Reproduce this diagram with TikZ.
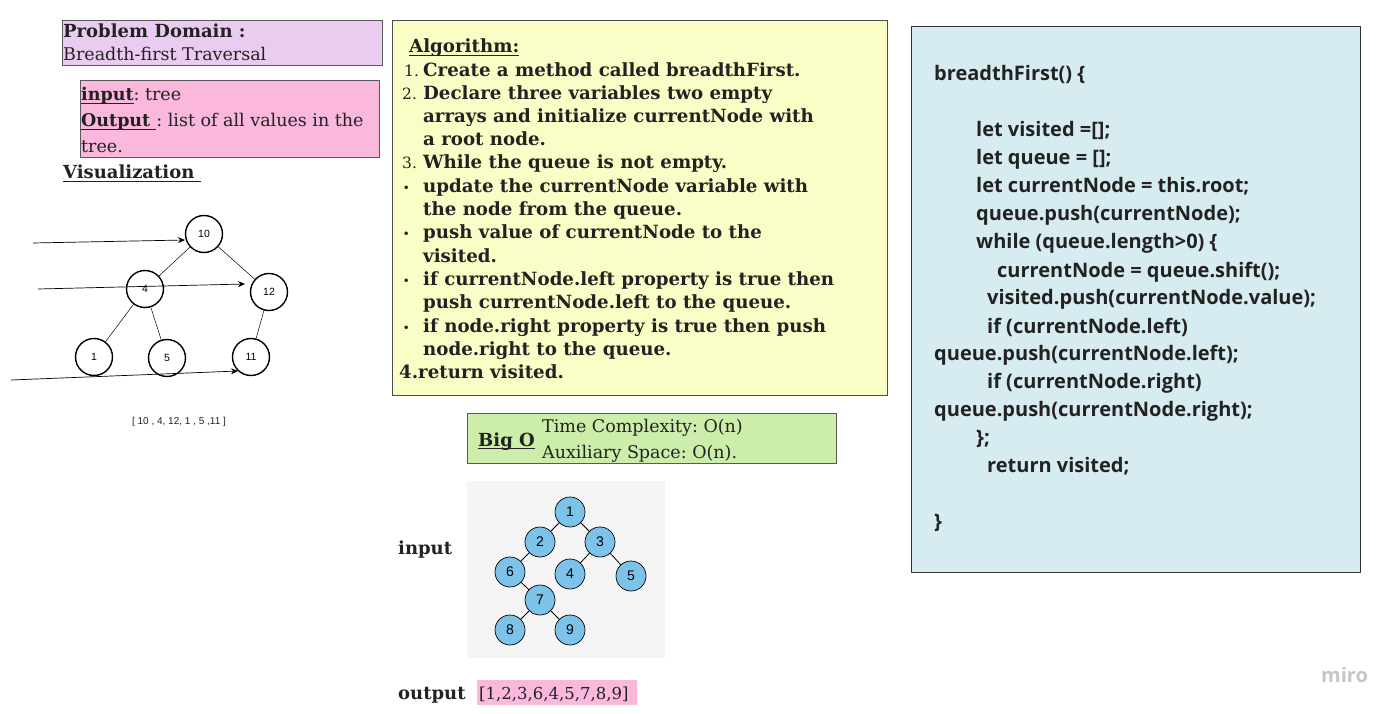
\documentclass[tikz,border=0pt]{standalone}
\usepackage{fontspec}
\setmainfont{DejaVu Serif}
\setsansfont{Liberation Sans}
\newfontfamily\codefont{Open Sans}
\usetikzlibrary{arrows.meta}
\frenchspacing
\definecolor{pdfill}{HTML}{EACCF1}
\definecolor{pinkfill}{HTML}{F9B8DC}
\definecolor{algfill}{HTML}{FAFEC6}
\definecolor{bigofill}{HTML}{CDEEAA}
\definecolor{codefill}{HTML}{D7ECF0}
\definecolor{imgbg}{HTML}{F5F5F5}
\definecolor{bluenode}{HTML}{7DC3E9}
\definecolor{txt}{HTML}{222222}
\definecolor{mirogray}{HTML}{C5C6CC}
\newcommand{\ul}[1]{\setbox0=\hbox{#1}\rlap{\rule[-2.6pt]{\wd0}{1pt}}\box0}
\newcommand{\bul}{{\fontsize{10}{10}\selectfont\raisebox{1pt}{•}}}
\tikzset{
  txtnode/.style={anchor=base west, inner sep=0pt, text=txt},
  sertxt/.style={txtnode, font=\fontsize{17.5}{20}\selectfont},
  serbold/.style={txtnode, font=\fontsize{18}{20}\selectfont\bfseries},
  algtxt/.style={txtnode, font=\fontsize{18.2}{20}\selectfont\bfseries},
  algnum/.style={txtnode, font=\fontsize{15.5}{20}\selectfont},
  codetxt/.style={txtnode, font=\fontsize{20}{24}\codefont\bfseries},
  tnode/.style={circle, draw, line width=1.4pt, minimum size=37pt, inner sep=0pt, font=\sffamily\fontsize{10.5}{11}\selectfont},
  bnode/.style={circle, draw, fill=bluenode, line width=0.7pt, minimum size=30pt, inner sep=0pt, font=\sffamily\fontsize{14}{15}\selectfont},
  tedge/.style={line width=0.5pt},
  bedge/.style={line width=0.8pt},
  tarrow/.style={line width=0.7pt, -{Stealth[length=7pt,width=6pt]}},
  box/.style={draw=#1, line width=0.9pt}
}
\begin{document}
\begin{tikzpicture}[x=1pt,y=-1pt]
\useasboundingbox[fill=white] (0,0) rectangle (1398,714);
% Problem domain
\draw[box=gray!70!black, fill=pdfill] (62,20) rectangle (382,65);
\node[serbold] (pd1) at (63,38) {Problem Domain :};
\node[sertxt] (pd2) at (63,61) {Breadth-first Traversal};
% input/output
\draw[box=gray!70!black, fill=pinkfill] (80,80) rectangle (379,157);
\node[sertxt] (io1) at (81,101) {\textbf{\ul{input}}: tree};
\node[sertxt] (io2) at (81,127) {\textbf{\ul{Output\ }}: list of all values in the};
\node[sertxt] (io3) at (81,153) {tree.};
\node[serbold] (vis) at (63,179) {\ul{Visualization\ }};
% tree
\node[tnode] (n10) at (204,234) {10};
\node[tnode] (n4) at (145,289) {4};
\node[tnode] (n12) at (269,292) {12};
\node[tnode] (n1) at (94,357) {1};
\node[tnode] (n5) at (167,358) {5};
\node[tnode] (n11) at (251,357) {11};
\draw[tedge] (n10) -- (n4);
\draw[tedge] (n10) -- (n12);
\draw[tedge] (n4) -- (n1);
\draw[tedge] (n4) -- (n5);
\draw[tedge] (n12) -- (n11);
\coordinate (a1) at (33,243);
\coordinate (a2) at (38,289);
\coordinate (a3) at (11,380);
\draw[tarrow] (a1) -- (185,240);
\draw[tarrow] (a2) -- (245,284);
\draw[tarrow] (a3) -- (238,371);
\node[anchor=center, font=\sffamily\fontsize{10}{11}\selectfont, text=txt] (res) at (179,422) {[ 10 , 4, 12, 1 , 5 ,11 ]};
% Algorithm
\draw[box=gray!60!black, fill=algfill] (392,20) rectangle (887,395);
\node[algtxt] (alg0) at (409,53) {\ul{Algorithm:}};
\node[algnum] (m1) at (404,77) {1.};
\node[algtxt] (l1) at (423,77) {Create a method called breadthFirst.};
\node[algnum] (m2) at (402,100) {2.};
\node[algtxt] (l2) at (423,100) {Declare three variables two empty};
\node[algtxt] (l3) at (423,123) {arrays and initialize currentNode with};
\node[algtxt] (l4) at (423,146) {a root node.};
\node[algnum] (m3) at (402,169) {3.};
\node[algtxt] (l5) at (423,169) {While the queue is not empty.};
\node[algtxt] (b1) at (403,193) {\bul};
\node[algtxt] (l6) at (423,193) {update the currentNode variable with};
\node[algtxt] (l7) at (423,216) {the node from the queue.};
\node[algtxt] (b2) at (403,239) {\bul};
\node[algtxt] (l8) at (423,239) {push value of currentNode to the};
\node[algtxt] (l9) at (423,262) {visited.};
\node[algtxt] (b3) at (403,285) {\bul};
\node[algtxt] (l10) at (423,285) {if currentNode.left property is true then};
\node[algtxt] (l11) at (423,308) {push currentNode.left to the queue.};
\node[algtxt] (b4) at (403,332) {\bul};
\node[algtxt] (l12) at (423,332) {if node.right property is true then push};
\node[algtxt] (l13) at (423,355) {node.right to the queue.};
\node[algtxt] (l14) at (399,378) {4.return visited.};
% Big O
\draw[box=gray!70!black, fill=bigofill] (467,413) rectangle (836,463);
\node[serbold] (bo) at (478,446) {\ul{Big O}};
\node[sertxt] (tc) at (542,432) {Time Complexity: O(n)};
\node[sertxt] (as) at (542,458) {Auxiliary Space: O(n).};
% input picture
\fill[imgbg] (467,481) rectangle (665,658);
\node[bnode] (b1n) at (570,512) {1};
\node[bnode] (b2n) at (540,542) {2};
\node[bnode] (b3n) at (600,542) {3};
\node[bnode] (b6n) at (510,572) {6};
\node[bnode] (b4n) at (570,574) {4};
\node[bnode] (b5n) at (631,576) {5};
\node[bnode] (b7n) at (540,600) {7};
\node[bnode] (b8n) at (510,630) {8};
\node[bnode] (b9n) at (570,630) {9};
\draw[bedge] (b1n) -- (b2n);
\draw[bedge] (b1n) -- (b3n);
\draw[bedge] (b2n) -- (b6n);
\draw[bedge] (b3n) -- (b4n);
\draw[bedge] (b3n) -- (b5n);
\draw[bedge] (b6n) -- (b7n);
\draw[bedge] (b7n) -- (b8n);
\draw[bedge] (b7n) -- (b9n);
\node[serbold] (inl) at (398,554) {input};
\node[serbold] (outl) at (398,699) {output};
\fill[pinkfill] (477,680) rectangle (637,705);
\node[sertxt, font=\fontsize{16.5}{20}\selectfont] (outv) at (479,699) {[1,2,3,6,4,5,7,8,9]};
% code
\draw[box=gray!40!black, fill=codefill] (911,26) rectangle (1360,572);
\node[codetxt] (c1) at (934,81) {breadthFirst() \{};
\node[codetxt] (c2) at (976,137) {let visited =[];};
\node[codetxt] (c3) at (976,165) {let queue = [];};
\node[codetxt] (c4) at (976,193) {let currentNode = this.root;};
\node[codetxt] (c5) at (976,221) {queue.push(currentNode);};
\node[codetxt] (c6) at (976,249) {while (queue.length>0) \{};
\node[codetxt] (c7) at (997,277) {currentNode = queue.shift();};
\node[codetxt] (c8) at (987,305) {visited.push(currentNode.value);};
\node[codetxt] (c9) at (987,333) {if (currentNode.left)};
\node[codetxt] (c10) at (934,360) {queue.push(currentNode.left);};
\node[codetxt] (c11) at (987,388) {if (currentNode.right)};
\node[codetxt] (c12) at (934,416) {queue.push(currentNode.right);};
\node[codetxt] (c13) at (976,444) {\};};
\node[codetxt] (c14) at (987,472) {return visited;};
\node[codetxt] (c15) at (934,528) {\}};
% miro
\node[txtnode, text=mirogray, font=\fontsize{20}{20}\codefont\bfseries] (miro) at (1321,682) {miro};
\end{tikzpicture}
\end{document}
